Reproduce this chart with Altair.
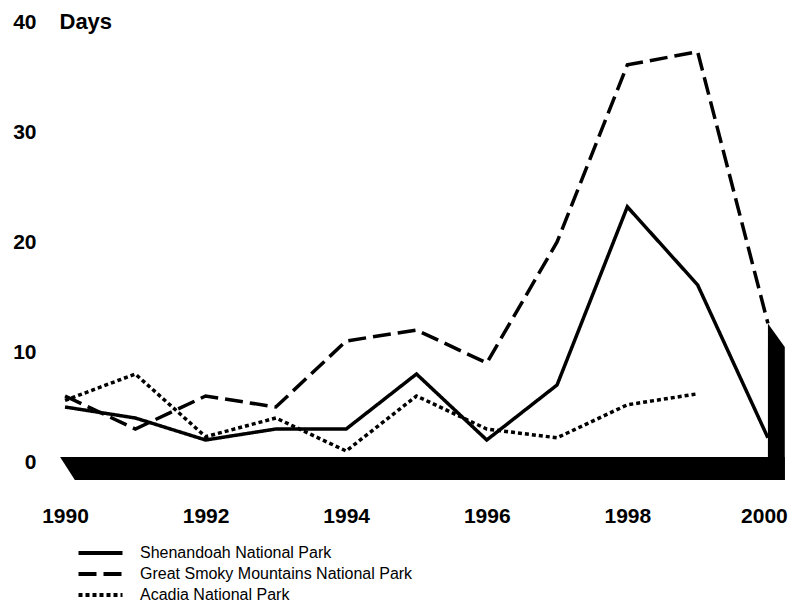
import altair as alt
import pandas as pd

years = list(range(1990, 2001))
shenandoah = [5, 4, 2, 3, 3, 8, 2, 7, 23.2, 16.1, 2.2]
smoky = [6, 3, 6, 5, 11, 12, 9, 20, 36.1, 37.3, 12.6]
acadia_years = list(range(1990, 2000))
acadia = [5.6, 8, 2.3, 4, 1, 6, 3, 2.2, 5.2, 6.2]

series = ["Shenandoah National Park",
          "Great Smoky Mountains National Park",
          "Acadia National Park"]
dashes = [[1, 0], [18, 7], [4, 3]]

x_ticks = [1990, 1992, 1994, 1996, 1998, 2000]
y_ticks = [0, 10, 20, 30, 40]

# decorative pseudo-3D base, outlines in data units
floor_x = [1989.93, 1990.14, 2000.24]
floor_top = [0.45, 0.45, 0.45]
floor_bottom = [0.45, -1.64, -1.64]
wall_x = [2000.0, 2000.24]
wall_top = [12.6, 10.45]
wall_bottom = [-1.64, -1.64]

rows = []
for y, v in zip(years, shenandoah):
    rows.append({"year": y, "days": v, "series": series[0]})
for y, v in zip(years, smoky):
    rows.append({"year": y, "days": v, "series": series[1]})
for y, v in zip(acadia_years, acadia):
    rows.append({"year": y, "days": v, "series": series[2]})
df = pd.DataFrame(rows)

floor_df = pd.DataFrame({"fx": floor_x, "ftop": floor_top, "fbot": floor_bottom})
wall_df = pd.DataFrame({"fx": wall_x, "ftop": wall_top, "fbot": wall_bottom})

FONT = "Liberation Sans"

xscale = alt.Scale(domain=[1989.9, 2000.3], nice=False, zero=False)
yscale = alt.Scale(domain=[-2, 40], nice=False, zero=False)

xaxis = alt.Axis(values=x_ticks, format="d", title=None, grid=False, ticks=False,
                 domain=False, labelFont=FONT, labelFontSize=21, labelFontWeight="bold",
                 labelColor="black", labelBaseline="alphabetic", labelPadding=38,
                 labelOffset={"condition": {"test": "datum.value == 2000", "value": -4},
                              "value": 0})
yaxis = alt.Axis(values=y_ticks, title="Days", grid=False, ticks=False, domain=False,
                 labelFont=FONT, labelFontSize=21, labelFontWeight="bold",
                 labelColor="black", labelPadding=22,
                 titleAngle=0, titleX=1, titleY=6, titleAlign="left",
                 titleBaseline="alphabetic", titleFont=FONT, titleFontSize=22,
                 titleFontWeight="bold", titleColor="black")

floor = alt.Chart(floor_df).mark_area(color="black", opacity=1).encode(
    x=alt.X("fx:Q", scale=xscale, axis=xaxis),
    y=alt.Y("ftop:Q", scale=yscale, axis=yaxis),
    y2="fbot:Q",
)
wall = alt.Chart(wall_df).mark_area(color="black", opacity=1).encode(
    x=alt.X("fx:Q", scale=xscale),
    y=alt.Y("ftop:Q", scale=yscale),
    y2="fbot:Q",
)

lines = alt.Chart(df).mark_line(color="black", strokeWidth=3.5).encode(
    x=alt.X("year:Q", scale=xscale),
    y=alt.Y("days:Q", scale=yscale),
    strokeDash=alt.StrokeDash(
        "series:N",
        scale=alt.Scale(domain=series, range=dashes),
        legend=alt.Legend(
            title=None, orient="none", legendX=34.5, legendY=523,
            symbolType="M-4,0H4", symbolSize=121, symbolStrokeWidth=4,
            symbolStrokeColor="black", symbolFillColor="black",
            labelOffset=31.5, labelFont=FONT, labelFontSize=16, labelLimit=0,
            labelColor="black", rowPadding=5, padding=0,
        ),
    ),
)

chart = alt.layer(floor, wall, lines).properties(
    width=731, height=462,
    autosize=alt.AutoSizeParams(type="none"),
    padding={"left": 50, "top": 14, "right": 0, "bottom": 120},
).configure(font=FONT).configure_view(stroke=None)

chart.save("out.html", embed_options={"renderer": "svg", "actions": False})
